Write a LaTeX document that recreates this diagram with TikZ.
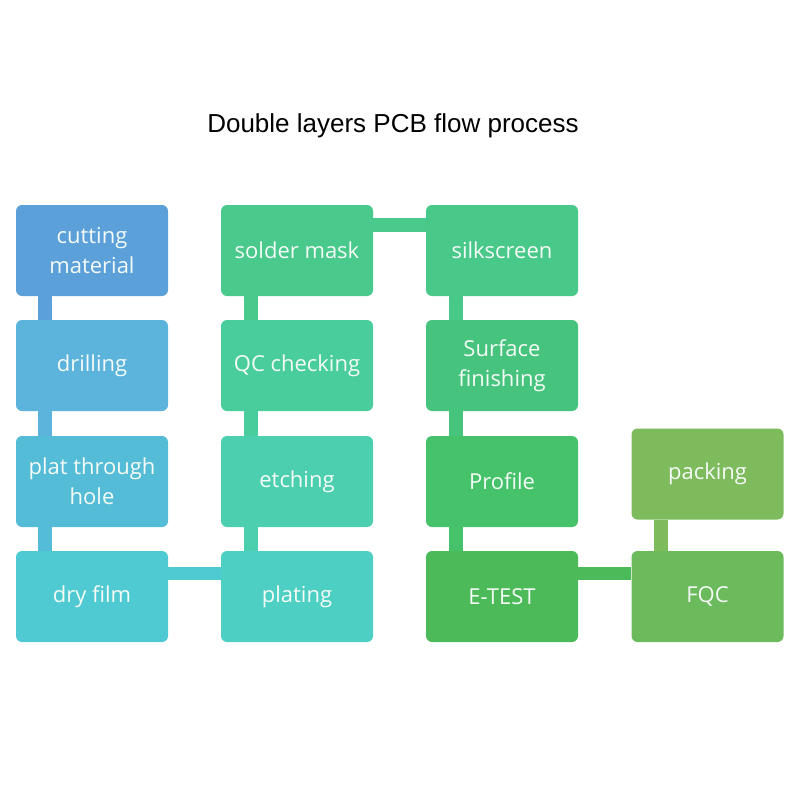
\documentclass[tikz,border=0pt]{standalone}
\usepackage{fontspec}
\setmainfont{Open Sans}
\newfontfamily\titlefont{Liberation Sans}
\usetikzlibrary{calc}
\definecolor{cA}{HTML}{5BA0D9}
\definecolor{cB}{HTML}{5CB3DC}
\definecolor{cC}{HTML}{55BCD8}
\definecolor{cD}{HTML}{4FCAD3}
\definecolor{cE}{HTML}{4DD0C3}
\definecolor{cF}{HTML}{4CCFAF}
\definecolor{cG}{HTML}{4ACD9C}
\definecolor{cH}{HTML}{49C98C}
\definecolor{cI}{HTML}{48C98A}
\definecolor{cJ}{HTML}{46C47D}
\definecolor{cK}{HTML}{45C26A}
\definecolor{cL}{HTML}{4CBA58}
\definecolor{cM}{HTML}{6BBA5B}
\definecolor{cN}{HTML}{7EBB5C}
\definecolor{txt}{HTML}{F4FBF6}
\tikzset{
  box/.style={rounded corners=6pt, minimum width=152pt, minimum height=91pt,
    inner sep=0pt, text=txt, align=center, font=\fontsize{22}{30}\selectfont},
}
\begin{document}
\begin{tikzpicture}[x=1pt,y=-1pt]
\useasboundingbox (0,0) rectangle (800,800);
\node[font=\titlefont\fontsize{26}{30}\selectfont] (title) at (393,126) {Double layers PCB flow process};
% column 1
\node[box,fill=cA] (cut) at (92,250.5) {cutting\\material};
\node[box,fill=cB] (dri) at (92,365.5) {drilling};
\node[box,fill=cC] (pth) at (92,481.5) {plat through\\hole};
\node[box,fill=cD] (dry) at (92,596.5) {dry film};
% column 2
\node[box,fill=cH] (sol) at (297,250.5) {solder mask};
\node[box,fill=cG] (qc) at (297,365.5) {QC checking};
\node[box,fill=cF] (etc) at (297,481.5) {etching};
\node[box,fill=cE] (pla) at (297,596.5) {plating};
% column 3
\node[box,fill=cI] (sil) at (502,250.5) {silkscreen};
\node[box,fill=cJ] (sur) at (502,365.5) {Surface\\finishing};
\node[box,fill=cK] (pro) at (502,481.5) {Profile};
\node[box,fill=cL] (ete) at (502,596.5) {E-TEST};
% column 4
\node[box,fill=cN] (pac) at (707.5,474) {packing};
\node[box,fill=cM] (fqc) at (707.5,596.5) {FQC};
% vertical connectors
\fill[cA] ([xshift=22pt]cut.south west) rectangle ([xshift=36pt]dri.north west);
\fill[cB] ([xshift=22pt]dri.south west) rectangle ([xshift=36pt]pth.north west);
\fill[cC] ([xshift=22pt]pth.south west) rectangle ([xshift=36pt]dry.north west);
\fill[cH] ([xshift=23pt]sol.south west) rectangle ([xshift=37pt]qc.north west);
\fill[cG] ([xshift=23pt]qc.south west) rectangle ([xshift=37pt]etc.north west);
\fill[cF] ([xshift=23pt]etc.south west) rectangle ([xshift=37pt]pla.north west);
\fill[cI] ([xshift=23pt]sil.south west) rectangle ([xshift=37pt]sur.north west);
\fill[cJ] ([xshift=23pt]sur.south west) rectangle ([xshift=37pt]pro.north west);
\fill[cK] ([xshift=23pt]pro.south west) rectangle ([xshift=37pt]ete.north west);
\fill[cN] ([xshift=23pt]pac.south west) rectangle ([xshift=37pt]fqc.north west);
% horizontal connectors
\fill[cH] ([yshift=-13pt]sol.north east) rectangle ([yshift=-27pt]sil.north west);
\fill[cD] ([yshift=-16pt]dry.north east) rectangle ([yshift=-29pt]pla.north west);
\fill[cL] ([yshift=-16pt]ete.north east) rectangle ([yshift=-29pt]fqc.north west);
\end{tikzpicture}
\end{document}
